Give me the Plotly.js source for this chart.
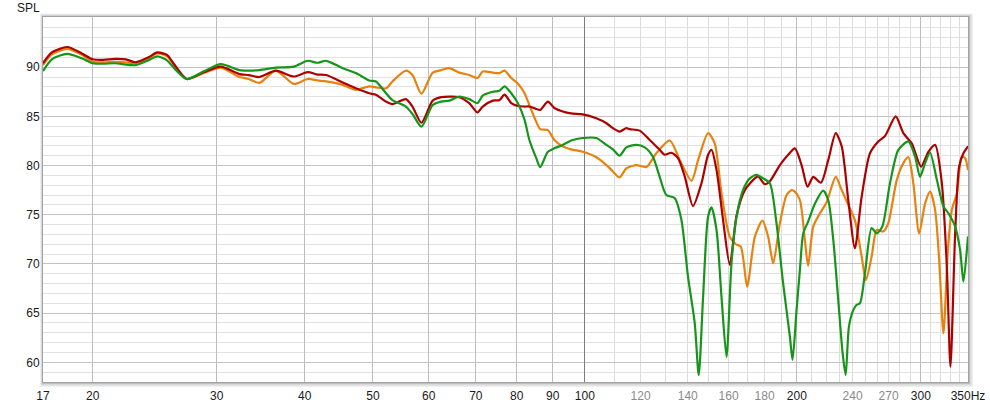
<!DOCTYPE html>
<html>
<head>
<meta charset="utf-8">
<script src="https://cdn.plot.ly/plotly-3.0.1.min.js"></script>
<style>
  html, body { margin: 0; padding: 0; background: #ffffff; }
  #chart { width: 990px; height: 406px; }
</style>
</head>
<body>
<div id="chart"></div>
<script>
// ---- Data ----
const freqRed = [17.0,17.5,18.4,19.3,20.0,20.7,21.5,22.3,23.0,24.0,24.7,25.5,26.1,27.2,28.8,30.4,32.3,33.3,34.5,36.4,38.6,40.4,41.7,42.9,45.3,47.3,49.4,50.5,52.2,53.3,55.7,56.9,58.6,60.8,62.5,64.2,66.3,68.5,70.4,71.6,74.0,75.6,76.9,78.6,80.3,82.1,83.4,85.3,86.4,88.6,90.5,93.0,95.6,99.3,103.8,107.3,109.6,112.0,114.5,115.8,119.6,123.6,127.7,129.8,132.7,135.6,138.6,142.4,146.4,149.6,151.3,153.8,157.1,160.6,164.2,168.7,174.3,176.2,180.1,183.1,189.2,194.4,198.7,203.1,207.1,211.0,216.4,221.6,227.1,231.6,236.6,241.8,247.2,254.0,261.0,266.8,276.3,283.3,291.2,300.2,307.5,314.3,321.3,326.6,330.5,335.6,340.0,344.8,350];
const splRed = [90.4,91.5,92.05,91.4,90.8,90.75,90.85,90.8,90.5,91.0,91.5,91.25,90.3,88.8,89.5,90.05,89.3,89.2,89.0,89.65,89.05,89.5,89.25,89.2,88.45,87.85,87.35,87.2,86.5,86.25,86.75,86.0,84.35,86.6,86.95,87.0,86.95,86.35,85.4,86.0,86.6,86.65,87.2,86.35,86.05,86.0,86.0,85.75,85.65,86.5,85.85,85.5,85.3,85.2,84.8,84.3,83.8,83.45,83.8,83.7,83.55,82.6,81.6,81.1,81.3,80.75,78.9,75.9,78.2,81.1,81.6,79.55,74.5,69.9,74.9,77.5,78.7,78.9,78.1,78.4,80.05,81.1,81.75,80.05,77.85,78.85,78.25,80.55,83.3,81.95,76.5,71.6,76.85,81.25,82.45,83.0,85.0,83.3,82.25,79.9,81.4,82.1,78.2,69.7,59.55,73.1,79.9,81.25,81.95];

const freqOrange = [17.0,17.5,18.4,19.3,20.0,20.7,21.5,22.3,23.0,24.0,24.7,25.5,26.1,27.2,28.8,30.4,32.3,33.3,34.5,36.4,38.6,40.4,41.7,42.9,45.3,47.3,49.4,50.5,52.2,53.3,55.7,56.9,58.6,60.8,62.5,64.2,66.3,68.5,70.4,71.6,74.0,75.6,76.9,78.6,80.3,82.1,83.4,85.3,86.4,88.6,90.5,93.0,95.6,99.3,103.8,107.3,109.6,112.0,114.5,118.3,122.3,126.3,132.0,136.4,141.7,144.8,149.6,152.9,156.3,160.6,163.8,166.5,170.0,174.3,178.7,182.1,185.1,189.2,193.4,196.6,198.7,202.0,205.3,207.5,211.0,215.7,220.5,227.1,231.6,236.6,241.8,247.2,250.7,255.4,259.7,265.3,269.7,277.2,283.3,288.0,292.7,298.3,304.2,309.2,314.3,318.5,323.0,327.7,332.0,337.5,343.0,346.8,350];
const splOrange = [90.2,91.3,91.85,91.25,90.55,90.5,90.55,90.5,90.4,90.9,91.4,91.1,90.2,88.8,89.4,89.95,89.0,88.8,88.4,89.65,88.3,88.8,88.65,88.55,88.2,87.7,88.05,87.95,87.85,88.55,89.65,89.2,87.3,89.45,89.7,89.9,89.45,89.2,88.9,89.55,89.45,89.4,89.65,88.9,88.35,87.35,86.15,84.45,83.7,83.6,82.6,81.95,81.65,81.4,80.85,80.05,79.4,78.8,79.7,80.05,79.85,81.25,82.55,80.55,78.45,80.55,83.3,82.25,77.2,72.75,72.0,71.75,67.7,72.75,74.4,72.75,70.05,74.15,77.0,77.5,77.35,76.5,72.45,69.8,73.8,75.15,76.3,78.85,77.5,76.0,74.45,70.75,68.35,70.75,73.45,73.3,74.15,78.5,80.25,80.85,78.2,73.1,76.15,77.35,75.5,70.4,62.95,71.4,75.5,77.2,80.9,80.75,79.55];

const freqGreen = [17.0,17.5,18.4,19.3,20.0,20.7,21.5,23.0,24.0,24.7,25.5,26.1,27.2,28.8,30.4,32.3,33.3,34.5,36.4,38.6,40.4,41.7,42.9,45.3,47.3,49.4,50.5,52.2,53.3,55.7,56.9,58.6,60.8,62.5,64.2,66.3,68.5,70.4,71.6,74.0,75.6,76.9,78.6,80.3,82.1,83.4,85.3,86.4,88.6,90.5,93.0,95.6,99.3,103.8,107.3,109.6,112.0,114.5,118.3,121.6,124.9,127.7,130.5,134.1,137.1,140.1,143.2,145.1,147.2,149.6,151.3,153.8,156.3,158.9,161.5,164.2,167.7,171.5,175.3,179.1,183.1,187.1,191.2,195.5,197.2,199.8,202.0,204.2,207.5,212.2,218.0,221.6,225.3,229.0,232.3,234.6,237.1,240.5,243.2,245.8,249.9,255.4,259.7,264.5,271.2,278.7,288.0,294.4,299.2,304.2,309.2,316.1,323.0,328.3,335.6,341.1,344.8,350];
const splGreen = [89.6,90.8,91.35,90.9,90.4,90.35,90.4,90.2,90.7,91.1,90.7,89.9,88.8,89.6,90.3,89.7,89.65,89.7,89.95,90.05,90.65,90.45,90.65,89.9,89.4,88.65,88.55,87.35,86.65,86.0,85.25,83.95,86.15,86.5,86.6,87.0,86.75,86.35,87.1,87.5,87.6,88.05,87.35,86.35,84.65,82.6,80.75,79.85,81.4,81.75,82.1,82.55,82.8,82.8,82.1,81.65,81.0,81.85,82.1,81.85,80.9,78.85,77.0,76.7,74.5,68.7,64.0,58.7,66.7,74.8,75.75,73.45,66.7,60.55,70.05,74.8,77.5,78.7,79.05,78.7,78.2,74.15,68.05,62.6,60.25,65.3,69.4,73.1,74.3,76.15,77.45,76.5,72.45,66.3,60.9,58.7,63.6,65.3,65.85,66.0,69.05,73.65,73.1,73.8,78.2,81.6,82.45,80.9,78.85,80.25,81.3,78.55,75.85,75.15,73.8,71.4,68.2,72.8];

// tick labels
const xLabelVals  = [17,20,30,40,50,60,70,80,90,100,120,140,160,180,200,240,270,300,350];
const xLabelText  = ['17','20','30','40','50','60','70','80','90','100','120','140','160','180','200','240','270','300','350Hz'];
const xGrayLabels = [120,140,160,180,240,270];
const xMidGrid    = [20,30,40,50,60,70,80,90,200,300];
const xDarkGrid   = [100];
const xMinorGrid  = [110,120,130,140,150,160,170,180,190,210,220,230,240,250,260,270,280,290,310,320,330,340];
const yTickVals   = [60,65,70,75,80,85,90];
const yRange      = [58, 95.1];
const xRange      = [17, 350];

// ---- Chart ----
const lineW = 2.2;
const traces = [
  {x: freqOrange, y: splOrange, type: 'scatter', mode: 'lines',
   line: {color: '#e8820f', width: lineW, shape: 'spline', smoothing: 0.7}, hoverinfo: 'skip'},
  {x: freqRed, y: splRed, type: 'scatter', mode: 'lines',
   line: {color: '#ad0000', width: lineW, shape: 'spline', smoothing: 0.7}, hoverinfo: 'skip'},
  {x: freqGreen, y: splGreen, type: 'scatter', mode: 'lines',
   line: {color: '#15961a', width: lineW, shape: 'spline', smoothing: 0.7}, hoverinfo: 'skip'},
  {x: [], y: [], xaxis: 'x2', yaxis: 'y', type: 'scatter', mode: 'lines', hoverinfo: 'skip'},
  {x: [], y: [], xaxis: 'x3', yaxis: 'y', type: 'scatter', mode: 'lines', hoverinfo: 'skip'}
];

const logRange = [Math.log10(xRange[0]), Math.log10(xRange[1])];
const tickText = xLabelVals.map((v, i) =>
  xGrayLabels.includes(v) ? '<span style="color:#8a8a8a">' + xLabelText[i] + '</span>' : xLabelText[i]);

const px = 1 / 925, py = 1 / 365;
const layout = {
  width: 990, height: 406,
  margin: {l: 43, r: 22, t: 17, b: 24, pad: 0},
  paper_bgcolor: '#ffffff',
  plot_bgcolor: 'rgba(0,0,0,0)',
  showlegend: false,
  font: {family: '"Liberation Sans", Arial, sans-serif', size: 12, color: '#1a1a1a'},
  xaxis: {
    type: 'log', range: logRange, fixedrange: true,
    tickmode: 'array', tickvals: xLabelVals, ticktext: tickText,
    showgrid: false, zeroline: false, ticks: 'outside', ticklen: 3, tickcolor: 'rgba(0,0,0,0)',
    showline: true, mirror: true, linecolor: '#a2a2a2', linewidth: 1,
    minor: {tickmode: 'array', tickvals: xMinorGrid, showgrid: true, gridcolor: '#dcdcdc', gridwidth: 1, ticks: ''}
  },
  xaxis2: {
    type: 'log', range: logRange, fixedrange: true, overlaying: 'x', anchor: 'y',
    tickmode: 'array', tickvals: xMidGrid, showticklabels: false, ticks: '',
    showgrid: true, gridcolor: '#bdbdbd', gridwidth: 1, zeroline: false, showline: false
  },
  xaxis3: {
    type: 'log', range: logRange, fixedrange: true, overlaying: 'x', anchor: 'y',
    tickmode: 'array', tickvals: xDarkGrid, showticklabels: false, ticks: '',
    showgrid: true, gridcolor: '#7c7c7c', gridwidth: 1, zeroline: false, showline: false
  },
  yaxis: {
    range: yRange, fixedrange: true,
    tickmode: 'array', tickvals: yTickVals, ticks: '',
    showgrid: true, gridcolor: '#c3c3c3', gridwidth: 1, zeroline: false,
    showline: true, mirror: true, linecolor: '#a2a2a2', linewidth: 1,
    minor: {dtick: 1, showgrid: true, gridcolor: '#e2e2e2', gridwidth: 1, ticks: ''}
  },
  shapes: [
    {type: 'rect', layer: 'below', xref: 'paper', yref: 'paper',
     x0: -3 * px, x1: 1 + 5 * px, y0: -5 * py, y1: 1 + 3.5 * py,
     fillcolor: '#efefef', line: {width: 0}},
    {type: 'rect', layer: 'below', xref: 'paper', yref: 'paper',
     x0: -2 * px, x1: 1 + 3.5 * px, y0: -3.5 * py, y1: 1 + 2.5 * py,
     fillcolor: '#d9d9d9', line: {width: 0}},
    {type: 'rect', layer: 'below', xref: 'paper', yref: 'paper',
     x0: -1 * px, x1: 1 + 2 * px, y0: -2 * py, y1: 1 + 1.2 * py,
     fillcolor: '#bdbdbd', line: {width: 0}},
    {type: 'rect', layer: 'below', xref: 'paper', yref: 'paper',
     x0: 0, x1: 1, y0: 0, y1: 1,
     fillcolor: '#ffffff', line: {width: 0}}
  ],
  annotations: [
    {text: 'SPL', xref: 'paper', yref: 'paper', x: -15 * px, y: 1 + 9 * py,
     xanchor: 'center', yanchor: 'middle', showarrow: false,
     font: {family: '"Liberation Sans", Arial, sans-serif', size: 12, color: '#1a1a1a'}}
  ]
};

Plotly.newPlot('chart', traces, layout, {staticPlot: true, displayModeBar: false});
</script>
</body>
</html>
